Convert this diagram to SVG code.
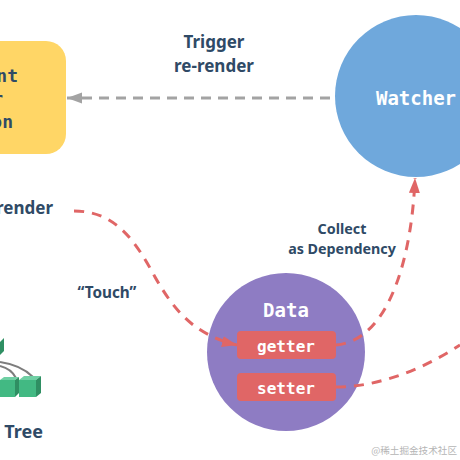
<svg xmlns="http://www.w3.org/2000/svg" width="460" height="460" viewBox="0 0 460 460">
<style>
.lbl{font-family:"Noto Sans","Open Sans",sans-serif;font-weight:700;fill:#2f4a66}
.mono{font-family:"DejaVu Sans Mono","Liberation Mono",monospace;font-weight:700}
.white{fill:#fff}
.dark{fill:#2f4a66}
.red{fill:none;stroke:#e06666;stroke-width:3;stroke-dasharray:10 8}
.gray{fill:none;stroke:#a3a3a3;stroke-width:3;stroke-dasharray:10 7}
.wire{fill:none;stroke:#7d7d7d;stroke-width:2}
.cf{fill:#42b983}.ct{fill:#6fd0a4}.cs{fill:#2f8f63}
</style>
<defs>
<marker id="ah-red" markerUnits="userSpaceOnUse" markerWidth="16" markerHeight="12" refX="15" refY="5.5" orient="auto"><path d="M0 0L15 5.5L0 11z" fill="#e06666"/></marker>
<marker id="ah-gray" markerUnits="userSpaceOnUse" markerWidth="16" markerHeight="12" refX="15" refY="5.5" orient="auto"><path d="M0 0L15 5.5L0 11z" fill="#a3a3a3"/></marker>
</defs>
<rect width="460" height="460" fill="#fff"/>
<g id="render-function">
<rect x="-60" y="41" width="126" height="113" rx="20" fill="#ffd666"/>
<text class="mono dark" font-size="18" x="18" y="82" text-anchor="end">nt</text>
<text class="mono dark" font-size="18" x="3" y="105" text-anchor="end">r</text>
<text class="mono dark" font-size="18" x="13" y="128" text-anchor="end">on</text>
</g>
<g id="watcher">
<circle cx="416" cy="96" r="81" fill="#6fa8dc"/>
<text class="mono white" font-size="19" x="416" y="105" text-anchor="middle">Watcher</text>
</g>
<g id="data">
<circle cx="286" cy="352" r="79" fill="#8e7cc3"/>
<text class="mono white" font-size="19" x="286" y="317" text-anchor="middle">Data</text>
</g>
<g id="getter">
<rect x="237" y="331" width="99" height="28" rx="4" fill="#e06666"/>
<text class="mono white" font-size="16" x="286" y="352" text-anchor="middle">getter</text>
</g>
<g id="setter">
<rect x="237" y="373" width="99" height="28" rx="4" fill="#e06666"/>
<text class="mono white" font-size="16" x="286" y="394" text-anchor="middle">setter</text>
</g>
<g id="vdom-tree">
<path class="wire" d="M0 362C14 364 24 368 33 377M0 366C8 368 13 372 16 378"/>
<path class="cf" d="M-8 342H0V355H-8z"/><path class="cs" d="M0 342L4 338V351L0 355z"/>
<path class="ct" d="M0 380H15L19 377H4z"/>
<path class="cf" d="M0 380H15V397H0z"/><path class="cs" d="M15 380L19 377V393L15 397z"/>
<path class="ct" d="M19 380H36L41 376H24z"/>
<path class="cf" d="M19 380H36V397H19z"/><path class="cs" d="M36 380L41 376V393L36 397z"/>
<text class="lbl" font-size="18" x="43" y="438" text-anchor="end">Tree</text>
</g>
<g id="connectors">
<path class="gray" d="M330 98H67" marker-end="url(#ah-gray)"/>
<path class="red" d="M74 211C115 211 135 240 155 277C175 312 195 335 237 345" marker-end="url(#ah-red)"/>
<path class="red" d="M336 345C390 340 412 255 415 178" marker-end="url(#ah-red)"/>
<path class="red" d="M336 387C380 387 425 368 460 345"/>
</g>
<g id="labels">
<text class="lbl" font-size="17" x="214" y="48" text-anchor="middle">Trigger</text>
<text class="lbl" font-size="17" x="214" y="72" text-anchor="middle">re-render</text>
<text class="lbl" font-size="17" x="53" y="214" text-anchor="end">render</text>
<text class="lbl" font-size="15.3" x="107" y="298" text-anchor="middle">“Touch”</text>
<text class="lbl" font-size="14.3" x="342" y="234" text-anchor="middle">Collect</text>
<text class="lbl" font-size="14.3" x="342" y="254" text-anchor="middle">as Dependency</text>
</g>
<text x="457" y="454" text-anchor="end" font-size="9.6" fill="#b5b5b5" font-family="'Noto Sans CJK SC',sans-serif">@稀土掘金技术社区</text>
</svg>
